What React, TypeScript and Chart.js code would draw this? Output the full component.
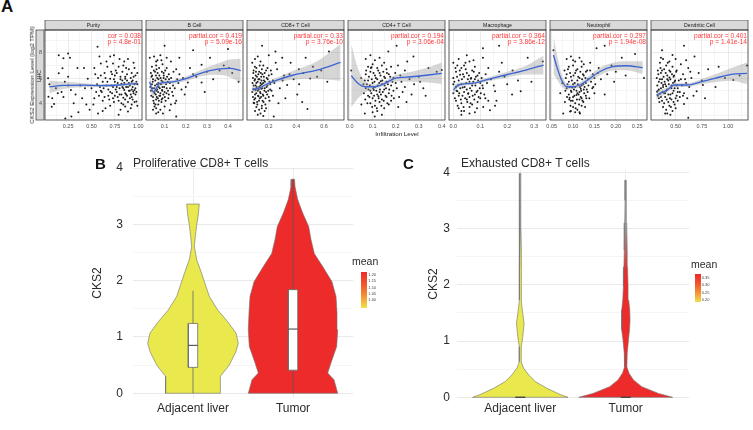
import React, { useEffect, useRef } from 'react';
import { Chart, registerables } from 'chart.js';
Chart.register(...registerables);

const FONT = "'Liberation Sans', Arial, Helvetica, sans-serif";

// ---------------- Panel A (TIMER scatter panels) ----------------
const panelNames = ['Purity', 'B Cell', 'CD8+ T Cell', 'CD4+ T Cell', 'Macrophage', 'Neutrophil', 'Dendritic Cell'];
const corLabels = ['cor = 0.038', 'partial.cor = 0.419', 'partial.cor = 0.33', 'partial.cor = 0.194', 'partial.cor = 0.364', 'partial.cor = 0.297', 'partial.cor = 0.401'];
const pLabels = ['p = 4.8e-01', 'p = 5.09e-16', 'p = 3.76e-10', 'p = 3.06e-04', 'p = 3.86e-12', 'p = 1.94e-08', 'p = 1.41e-14'];
const xRangeMin = [0.003, 0.012, 0.042, -0.007, -0.016, 0.046, 0.265];
const xRangeMax = [1.04, 0.471, 0.745, 0.414, 0.344, 0.273, 1.19];
const purityTicks = ['0.25', '0.50', '0.75', '1.00'];
const bcellTicks = ['0.1', '0.2', '0.3', '0.4'];
const cd8Ticks = ['0.2', '0.4', '0.6'];
const cd4Ticks = ['0.0', '0.1', '0.2', '0.3', '0.4'];
const macroTicks = ['0.0', '0.1', '0.2', '0.3'];
const neutroTicks = ['0.05', '0.10', '0.15', '0.20', '0.25'];
const dcTicks = ['0.50', '0.75', '1.00'];
const exprTicks = ['4', '6', '8'];
const exprRange = [2.68, 9.8];

const purityPts = [[0.036,5.98],[0.04,4.52],[0.08,4.4],[0.075,3.73],[0.15,7.8],[0.15,6.37],[0.19,6.77],[0.2,7.56],[0.25,7.95],[0.27,7.6],[0.215,5.7],[0.18,4.9],[0.14,4.8],[0.2,4.5],[0.25,6.1],[0.25,5.4],[0.28,5.05],[0.31,4.0],[0.22,2.8],[0.285,2.95],[0.1,3.95],[0.35,6.8],[0.38,5.4],[0.42,6.8],[0.4,4.4],[0.445,3.9],[0.48,3.5],[0.46,5.95],[0.53,6.8],[0.565,8.47],[0.585,7.7],[0.6,7.15],[0.55,4.9],[0.52,3.9],[0.62,4.2],[0.65,3.6],[0.7,7.7],[0.73,7.15],[0.72,6.3],[0.75,5.7],[0.79,6.9],[0.8,7.5],[0.84,7.0],[0.87,6.8],[0.89,7.5],[0.93,6.4],[0.96,6.8],[0.98,5.7],[0.945,4.95],[0.91,4.4],[0.87,4.7],[0.84,5.2],[0.8,4.7],[0.77,4.9],[0.73,4.4],[0.7,4.9],[0.66,5.4],[0.62,5.7],[0.59,5.3],[0.82,4.0],[0.86,3.75],[0.93,3.9],[0.98,4.15],[0.79,3.1],[0.89,3.35],[0.75,6.2],[0.86,5.95],[0.93,5.7],[0.81,6.1],[0.7,5.95],[0.64,6.4],[0.77,5.3],[0.82,5.55],[0.89,5.3],[0.96,5.05],[0.73,5.3],[0.86,4.8],[0.93,4.5],[0.68,4.6],[0.91,5.0],[0.95,6.1],[0.88,6.3],[0.78,4.5],[0.84,4.45],[0.97,4.7],[0.9,5.6],[0.76,6.6],[0.67,6.9],[0.57,6.0],[0.5,5.2],[0.99,6.4],[0.83,5.8],[0.74,4.1],[0.94,5.3],[0.85,5.05],
  [0.56,5.5],[0.58,4.6],[0.6,6.2],[0.61,4.9],[0.63,5.2],[0.64,4.5],[0.65,6.0],[0.67,5.7],[0.68,5.1],[0.69,4.3],[0.71,5.4],[0.71,6.5],[0.72,4.8],[0.74,5.9],[0.75,4.6],[0.76,5.1],[0.77,6.4],[0.78,5.6],[0.79,4.2],[0.8,5.2],[0.81,5.9],[0.82,4.7],[0.83,6.5],[0.83,5.3],[0.84,3.9],[0.85,5.6],[0.86,4.3],[0.86,6.1],[0.87,5.3],[0.88,4.6],[0.88,5.8],[0.89,4.1],[0.9,6.7],[0.9,5.0],[0.91,5.4],[0.92,4.7],[0.92,6.0],[0.93,5.1],[0.94,4.3],[0.94,5.8],[0.95,4.8],[0.96,5.5],[0.96,4.1],[0.97,6.2],[0.97,5.2],[0.98,4.9],[0.99,5.5],[0.99,3.8],[0.53,4.4],[0.54,6.3],[0.57,3.2],[0.62,3.4],[0.66,7.3],[0.74,7.8],[0.81,3.5],[0.92,3.6],[0.7,3.8],[0.6,5.0],[0.85,7.3],[0.95,7.2],[0.33,4.7],[0.12,5.2],[0.43,5.2],[0.36,3.3],[0.05,5.5]];
const purityFitX = [0.05, 0.2, 0.4, 0.6, 0.8, 0.99];
const purityFitY = [5.3, 5.42, 5.44, 5.4, 5.45, 5.58];
const purityFitSE = [0.5, 0.28, 0.17, 0.12, 0.1, 0.16];

const bcellPts = [[0.03,7.6],[0.05,7.7],[0.066,7.4],[0.08,7.8],[0.1,8.55],[0.04,6.9],[0.06,7.0],[0.09,7.1],[0.11,6.8],[0.035,6.4],[0.055,6.5],[0.075,6.2],[0.095,6.4],[0.12,6.3],[0.045,5.9],[0.065,6.0],[0.085,5.8],[0.105,5.9],[0.125,5.6],[0.04,5.5],[0.055,5.4],[0.07,5.6],[0.09,5.3],[0.11,5.2],[0.035,5.0],[0.05,4.9],[0.065,5.1],[0.08,4.8],[0.1,4.9],[0.12,4.7],[0.045,4.5],[0.06,4.3],[0.075,4.6],[0.09,4.4],[0.105,4.2],[0.05,4.0],[0.07,3.9],[0.085,4.1],[0.06,3.6],[0.08,3.5],[0.1,3.75],[0.052,3.75],[0.06,3.2],[0.092,3.2],[0.124,3.45],[0.155,2.95],[0.155,4.2],[0.195,4.7],[0.21,5.65],[0.275,5.65],[0.187,6.0],[0.235,6.3],[0.155,6.7],[0.275,7.05],[0.235,8.2],[0.315,7.6],[0.4,8.3],[0.405,6.8],[0.45,5.7],[0.14,5.4],[0.16,5.9],[0.17,6.3],[0.13,7.3],[0.18,5.1],[0.22,6.8],[0.25,6.1],[0.3,6.5],[0.33,5.9],[0.36,6.6],[0.38,7.0],[0.42,6.4],[0.29,4.9],[0.14,4.6],[0.13,3.9],[0.17,7.6],[0.2,5.3],[0.115,5.7],[0.095,6.0],[0.072,5.3],[0.058,4.7],[0.043,5.2],[0.068,4.4],[0.088,5.05],[0.038,6.1],[0.062,6.7],
  [0.032,5.3],[0.037,4.6],[0.041,6.2],[0.044,5.7],[0.047,4.2],[0.049,6.6],[0.051,5.2],[0.053,4.8],[0.056,5.8],[0.057,3.9],[0.059,6.2],[0.061,5.0],[0.063,4.5],[0.064,5.5],[0.067,6.4],[0.069,4.9],[0.071,5.9],[0.073,4.2],[0.074,6.8],[0.077,5.2],[0.079,4.6],[0.081,6.0],[0.083,5.5],[0.086,4.3],[0.087,6.5],[0.089,5.0],[0.091,5.7],[0.094,4.7],[0.096,6.2],[0.098,5.3],[0.101,4.5],[0.103,6.6],[0.107,5.5],[0.109,4.8],[0.112,6.1],[0.116,5.0],[0.118,4.4],[0.121,5.9],[0.126,5.2],[0.131,6.0],[0.136,4.9],[0.142,6.5],[0.148,5.2],[0.045,3.5],[0.07,3.3],[0.085,7.4],[0.06,7.3],[0.11,7.6],[0.15,4.0],[0.165,5.6]];
const bcellFitX = [0.029, 0.046, 0.078, 0.14, 0.205, 0.27, 0.35, 0.41, 0.46];
const bcellFitY = [5.7, 4.92, 5.58, 5.7, 5.97, 6.37, 6.7, 6.77, 6.58];
const bcellFitSE = [0.55, 0.35, 0.2, 0.15, 0.18, 0.25, 0.45, 0.7, 0.95];

const cd8Pts = [[0.151,8.55],[0.248,8.1],[0.297,7.6],[0.358,7.2],[0.418,6.7],[0.467,7.6],[0.624,5.7],[0.636,8.1],[0.406,4.7],[0.442,4.1],[0.48,3.55],[0.236,2.95],[0.333,5.45],[0.5,5.97],[0.31,6.2],[0.08,7.2],[0.1,7.5],[0.12,7.7],[0.14,7.3],[0.16,7.0],[0.09,6.6],[0.11,6.8],[0.13,6.5],[0.15,6.7],[0.17,6.4],[0.19,6.8],[0.085,6.0],[0.105,6.2],[0.125,5.9],[0.145,6.1],[0.165,5.8],[0.185,6.0],[0.205,5.7],[0.09,5.4],[0.11,5.6],[0.13,5.3],[0.15,5.5],[0.17,5.2],[0.19,5.4],[0.21,5.1],[0.08,4.9],[0.1,4.7],[0.12,5.0],[0.14,4.8],[0.16,4.6],[0.18,4.9],[0.2,4.5],[0.095,4.3],[0.115,4.1],[0.135,4.4],[0.155,4.2],[0.175,3.9],[0.11,3.7],[0.13,3.5],[0.15,3.8],[0.17,3.4],[0.12,3.1],[0.16,3.0],[0.22,6.3],[0.24,5.6],[0.26,6.7],[0.28,5.2],[0.23,4.6],[0.27,4.0],[0.3,5.8],[0.35,6.3],[0.38,5.9],[0.42,5.5],[0.45,6.4],[0.52,6.9],[0.55,6.1],[0.58,6.6],[0.32,4.4],[0.25,7.2],[0.2,7.8],[0.1,5.9],[0.14,5.6],[0.105,5.05],[0.125,4.55],[0.145,5.15],[0.09,4.05],
  [0.082,5.6],[0.085,4.5],[0.088,6.4],[0.092,5.1],[0.094,4.0],[0.097,5.8],[0.099,6.9],[0.102,4.4],[0.104,5.4],[0.107,6.5],[0.109,4.8],[0.112,5.3],[0.114,6.1],[0.117,3.9],[0.119,5.7],[0.122,4.6],[0.124,6.3],[0.127,5.1],[0.129,4.2],[0.132,5.9],[0.134,7.0],[0.137,4.9],[0.139,5.4],[0.142,6.4],[0.144,4.5],[0.147,5.8],[0.149,3.6],[0.152,5.2],[0.154,6.3],[0.157,4.7],[0.159,5.6],[0.162,4.1],[0.164,6.1],[0.168,5.0],[0.172,5.7],[0.176,4.4],[0.18,6.6],[0.184,5.3],[0.188,4.7],[0.192,5.9],[0.196,5.0],[0.2,6.2],[0.205,4.2],[0.21,5.5],[0.215,6.6],[0.22,5.0],[0.23,5.8],[0.14,3.2],[0.1,3.4],[0.18,3.6]];
const cd8FitX = [0.079, 0.127, 0.176, 0.26, 0.38, 0.55, 0.72];
const cd8FitY = [5.13, 5.19, 5.47, 5.84, 6.24, 6.63, 7.24];
const cd8FitSE = [0.3, 0.15, 0.15, 0.2, 0.35, 0.7, 1.45];

const cd4Pts = [[0.007,6.6],[0.204,8.55],[0.168,8.1],[0.277,7.7],[0.306,5.7],[0.378,6.5],[0.4,6.63],[0.342,6.8],[0.24,6.6],[0.269,4.7],[0.247,4.1],[0.211,3.7],[0.109,2.95],[0.066,3.2],[0.051,3.9],[0.07,7.5],[0.09,7.8],[0.11,7.4],[0.13,7.6],[0.15,7.2],[0.08,6.9],[0.1,7.1],[0.12,6.8],[0.14,7.0],[0.16,6.7],[0.18,6.9],[0.07,6.3],[0.09,6.5],[0.11,6.2],[0.13,6.4],[0.15,6.1],[0.17,6.3],[0.19,6.0],[0.08,5.8],[0.1,5.6],[0.12,5.9],[0.14,5.5],[0.16,5.7],[0.18,5.4],[0.2,5.6],[0.07,5.2],[0.09,5.0],[0.11,5.3],[0.13,4.9],[0.15,5.1],[0.17,4.8],[0.19,5.0],[0.08,4.6],[0.1,4.4],[0.12,4.7],[0.14,4.3],[0.16,4.5],[0.18,4.2],[0.09,4.0],[0.11,3.8],[0.13,4.1],[0.15,3.6],[0.17,3.9],[0.12,3.4],[0.14,3.1],[0.1,3.3],[0.22,6.2],[0.24,5.3],[0.26,5.9],[0.23,4.9],[0.28,5.5],[0.3,6.1],[0.21,7.0],[0.25,7.3],[0.32,5.2],[0.33,4.6],[0.06,5.5],[0.05,6.0],[0.105,5.05],[0.125,4.55],[0.095,6.85],[0.135,5.75],
  [0.062,4.8],[0.066,5.8],[0.068,4.3],[0.072,6.6],[0.075,5.5],[0.077,4.0],[0.082,5.1],[0.084,6.1],[0.086,4.5],[0.088,5.4],[0.092,6.8],[0.094,4.8],[0.096,5.9],[0.098,3.7],[0.102,5.2],[0.104,6.4],[0.106,4.6],[0.108,5.7],[0.112,4.2],[0.114,6.0],[0.116,5.0],[0.118,3.6],[0.122,5.4],[0.124,6.6],[0.126,4.4],[0.128,5.6],[0.132,5.1],[0.134,6.2],[0.136,4.7],[0.138,3.8],[0.142,5.8],[0.144,4.9],[0.146,6.5],[0.148,4.2],[0.152,5.4],[0.154,6.0],[0.156,4.6],[0.158,5.2],[0.162,6.4],[0.164,4.0],[0.166,5.5],[0.172,5.1],[0.176,6.1],[0.182,4.6],[0.186,5.7],[0.192,4.4],[0.198,6.4],[0.205,5.2],[0.215,4.5],[0.225,5.7]];
const cd4FitX = [0.007, 0.036, 0.066, 0.109, 0.153, 0.196, 0.269, 0.342, 0.4];
const cd4FitY = [6.18, 5.58, 5.31, 5.31, 5.58, 5.97, 6.1, 6.24, 6.37];
const cd4FitSE = [2.5, 1.2, 0.45, 0.2, 0.18, 0.25, 0.4, 0.6, 0.85];

const macroPts = [[0.11,8.35],[0.17,8.55],[0.18,7.2],[0.276,7.6],[0.332,7.3],[0.2,5.5],[0.155,4.95],[0.119,4.4],[0.16,4.2],[0.136,3.45],[0.155,3.8],[0.218,4.7],[0.25,4.95],[0.29,5.7],[0.111,3.7],[0.0,7.2],[0.02,7.5],[0.04,7.0],[0.06,7.3],[0.08,6.9],[0.01,6.5],[0.03,6.8],[0.05,6.4],[0.07,6.6],[0.09,6.2],[0.0,6.0],[0.02,5.8],[0.04,6.1],[0.06,5.7],[0.08,5.9],[0.1,5.6],[0.01,5.3],[0.03,5.5],[0.05,5.1],[0.07,5.4],[0.09,5.0],[0.0,4.8],[0.02,4.6],[0.04,4.9],[0.06,4.5],[0.08,4.7],[0.1,4.4],[0.01,4.2],[0.03,4.0],[0.05,4.3],[0.07,3.9],[0.09,4.1],[0.02,3.6],[0.04,3.4],[0.06,3.7],[0.08,3.3],[0.03,3.1],[0.12,6.3],[0.14,5.9],[0.13,6.8],[0.11,5.2],[0.15,5.4],[0.17,6.5],[0.19,6.1],[0.22,6.6],[0.24,5.8],[0.0,5.5],[0.11,7.6],[0.05,7.8],[0.015,4.95],[0.035,5.25],[0.055,4.75],[0.025,6.25],[0.065,5.95],
  [0.004,5.7],[0.006,4.4],[0.008,6.8],[0.012,5.0],[0.014,6.1],[0.016,3.8],[0.018,5.4],[0.022,4.8],[0.024,6.6],[0.026,5.2],[0.028,4.3],[0.032,5.9],[0.034,4.6],[0.036,6.3],[0.038,3.7],[0.042,5.3],[0.044,4.4],[0.046,6.7],[0.048,5.6],[0.052,4.1],[0.054,5.9],[0.056,4.8],[0.058,6.2],[0.062,5.2],[0.064,4.0],[0.066,6.0],[0.068,5.0],[0.072,4.6],[0.074,5.7],[0.076,6.5],[0.078,4.3],[0.082,5.4],[0.084,6.1],[0.086,4.9],[0.088,3.6],[0.092,5.8],[0.094,4.5],[0.096,6.4],[0.098,5.2],[0.102,4.8],[0.105,6.0],[0.108,5.4],[0.115,4.7],[0.125,5.6],[0.13,4.2],[0.045,7.2],[0.015,7.0],[0.075,7.4],[0.03,3.4],[0.06,3.2]];
const macroFitX = [0.0, 0.019, 0.069, 0.119, 0.194, 0.27, 0.335];
const macroFitY = [5.05, 5.45, 5.58, 5.84, 6.24, 6.63, 7.03];
const macroFitSE = [0.35, 0.2, 0.13, 0.15, 0.22, 0.35, 0.75];

const neutroPts = [[0.054,8.2],[0.155,8.35],[0.174,8.55],[0.214,7.6],[0.245,7.9],[0.266,6.0],[0.223,6.2],[0.196,5.7],[0.174,4.7],[0.147,5.3],[0.081,4.1],[0.077,3.2],[0.093,3.35],[0.116,3.2],[0.124,4.1],[0.085,7.5],[0.095,7.7],[0.105,7.3],[0.115,7.6],[0.125,7.1],[0.09,6.9],[0.1,7.0],[0.11,6.7],[0.12,6.9],[0.13,6.5],[0.085,6.3],[0.095,6.1],[0.105,6.4],[0.115,6.0],[0.125,6.2],[0.135,5.9],[0.09,5.7],[0.1,5.5],[0.11,5.8],[0.12,5.4],[0.13,5.6],[0.085,5.2],[0.095,5.0],[0.105,5.3],[0.115,4.9],[0.125,5.1],[0.09,4.7],[0.1,4.5],[0.11,4.8],[0.12,4.4],[0.13,4.6],[0.095,4.2],[0.105,4.0],[0.115,4.3],[0.1,3.7],[0.11,3.5],[0.12,3.8],[0.105,3.3],[0.14,6.6],[0.15,6.0],[0.16,6.8],[0.145,5.2],[0.165,5.9],[0.18,6.3],[0.19,7.0],[0.2,6.5],[0.15,4.8],[0.14,7.2],[0.075,5.6],[0.08,6.6],[0.07,4.8],[0.098,5.25],[0.108,4.65],[0.118,5.15],[0.092,4.45],
  [0.082,5.0],[0.083,6.0],[0.086,4.5],[0.087,5.5],[0.088,6.7],[0.091,4.3],[0.092,5.3],[0.093,6.4],[0.094,3.8],[0.096,4.9],[0.097,5.8],[0.099,4.2],[0.101,6.2],[0.102,5.1],[0.103,4.6],[0.104,5.6],[0.106,3.6],[0.107,6.6],[0.108,5.0],[0.109,4.3],[0.111,5.5],[0.112,6.1],[0.113,4.7],[0.114,3.9],[0.116,5.3],[0.117,6.5],[0.118,4.5],[0.119,5.0],[0.121,5.9],[0.122,4.2],[0.123,6.3],[0.124,5.5],[0.126,4.8],[0.127,5.3],[0.128,3.7],[0.129,6.0],[0.131,4.4],[0.132,5.1],[0.133,6.6],[0.134,4.9],[0.136,5.4],[0.138,4.4],[0.142,5.7],[0.146,6.3],[0.152,5.5],[0.158,6.4],[0.095,3.4],[0.115,3.3],[0.1,7.4],[0.12,7.3]];
const neutroFitX = [0.054, 0.062, 0.073, 0.085, 0.1, 0.116, 0.139, 0.162, 0.193, 0.225, 0.263];
const neutroFitY = [7.82, 6.9, 5.84, 5.31, 5.31, 5.45, 5.97, 6.5, 6.9, 6.97, 6.82];
const neutroFitSE = [1.5, 1.0, 0.5, 0.25, 0.18, 0.2, 0.25, 0.3, 0.3, 0.35, 0.5];

const dcPts = [[0.323,4.92],[0.37,8.2],[0.58,8.55],[0.47,7.82],[0.68,7.7],[0.81,6.7],[0.91,6.9],[1.05,5.85],[1.18,7.0],[0.78,4.4],[0.7,4.95],[0.58,3.95],[0.62,2.85],[0.42,3.2],[0.88,5.3],[0.97,6.0],[1.11,6.2],[0.76,5.45],[0.32,6.0],[0.35,7.2],[0.38,7.5],[0.41,7.0],[0.44,7.3],[0.47,6.9],[0.33,6.6],[0.36,6.4],[0.39,6.7],[0.42,6.2],[0.45,6.5],[0.48,6.1],[0.51,6.6],[0.34,5.7],[0.37,5.9],[0.4,5.5],[0.43,5.8],[0.46,5.4],[0.49,5.7],[0.52,5.2],[0.55,5.9],[0.33,5.0],[0.36,5.2],[0.39,4.8],[0.42,5.1],[0.45,4.7],[0.48,5.0],[0.51,4.6],[0.54,4.9],[0.34,4.4],[0.37,4.2],[0.4,4.5],[0.43,4.1],[0.46,4.3],[0.49,3.9],[0.52,4.2],[0.38,3.7],[0.41,3.5],[0.44,3.8],[0.47,3.4],[0.5,3.6],[0.57,6.3],[0.6,5.6],[0.62,6.8],[0.65,6.0],[0.58,4.8],[0.63,5.3],[0.67,4.6],[0.55,7.1],[0.6,7.4],[0.72,6.4],[0.75,5.8],[0.35,4.75],[0.41,5.35],[0.44,6.05],[0.38,5.45],
  [0.325,5.4],[0.33,4.6],[0.335,6.3],[0.34,5.1],[0.345,4.1],[0.35,5.9],[0.355,6.8],[0.36,4.5],[0.365,5.6],[0.37,6.6],[0.375,4.9],[0.38,5.3],[0.385,6.1],[0.39,4.0],[0.395,5.7],[0.4,4.8],[0.405,6.4],[0.41,5.0],[0.415,4.3],[0.42,5.9],[0.425,7.2],[0.43,4.7],[0.435,5.5],[0.44,6.6],[0.445,4.4],[0.45,5.9],[0.455,3.7],[0.46,5.2],[0.465,6.3],[0.47,4.8],[0.475,5.6],[0.48,4.1],[0.485,6.2],[0.49,5.2],[0.495,5.8],[0.5,4.4],[0.505,6.5],[0.51,5.4],[0.52,4.9],[0.53,5.8],[0.54,4.5],[0.56,5.4],[0.57,4.6],[0.59,5.9],[0.61,4.4],[0.64,6.5],[0.4,3.2],[0.45,3.1],[0.36,7.6],[0.5,7.5]];
const dcFitX = [0.316, 0.42, 0.485, 0.613, 0.742, 0.872, 1.03, 1.18];
const dcFitY = [4.66, 5.05, 5.45, 5.45, 5.7, 5.97, 6.29, 6.37];
const dcFitSE = [0.35, 0.2, 0.15, 0.15, 0.2, 0.3, 0.5, 0.85];

const panels = [
  { ticks: purityTicks, pts: purityPts, fx: purityFitX, fy: purityFitY, se: purityFitSE },
  { ticks: bcellTicks, pts: bcellPts, fx: bcellFitX, fy: bcellFitY, se: bcellFitSE },
  { ticks: cd8Ticks, pts: cd8Pts, fx: cd8FitX, fy: cd8FitY, se: cd8FitSE },
  { ticks: cd4Ticks, pts: cd4Pts, fx: cd4FitX, fy: cd4FitY, se: cd4FitSE },
  { ticks: macroTicks, pts: macroPts, fx: macroFitX, fy: macroFitY, se: macroFitSE },
  { ticks: neutroTicks, pts: neutroPts, fx: neutroFitX, fy: neutroFitY, se: neutroFitSE },
  { ticks: dcTicks, pts: dcPts, fx: dcFitX, fy: dcFitY, se: dcFitSE },
].map((p, i) => ({ ...p, name: panelNames[i], cor: corLabels[i], p: pLabels[i], min: xRangeMin[i], max: xRangeMax[i] }));

// ---------------- Panels B and C (violins) ----------------
const cats = ['Adjacent liver', 'Tumor'];
const violinYTicks = ['0', '1', '2', '3', '4'];
// Proliferative CD8+ T cells: density half-widths (category units)
const propAdjY = [0, 0.3, 0.5, 0.74, 0.89, 1.07, 1.27, 1.48, 1.72, 1.95, 2.16, 2.37, 2.61, 2.78, 2.99, 3.17, 3.36];
const propAdjW = [0.274, 0.274, 0.363, 0.43, 0.453, 0.43, 0.347, 0.247, 0.163, 0.12, 0.08, 0.037, 0.013, 0.023, 0.037, 0.053, 0.063];
const propTumY = [0, 0.24, 0.36, 0.54, 0.83, 1.13, 1.43, 1.72, 1.98, 2.25, 2.48, 2.73, 2.96, 3.2, 3.44, 3.67, 3.8];
const propTumW = [0.447, 0.41, 0.347, 0.38, 0.437, 0.447, 0.44, 0.43, 0.39, 0.297, 0.213, 0.18, 0.157, 0.097, 0.047, 0.02, 0.015];
const propQ1 = [0.46, 0.41];
const propMed = [0.85, 1.14];
const propQ3 = [1.24, 1.84];
const propWhiskLo = [0, 0];
const propWhiskHi = [1.82, 3.8];
// Exhausted CD8+ T cells
const exhAdjY = [0, 0.05, 0.16, 0.28, 0.4, 0.52, 0.63, 0.9, 1.08, 1.32, 1.55, 1.73, 2.0, 2.3, 2.6, 3.0, 3.5, 3.98];
const exhAdjW = [0.452, 0.379, 0.253, 0.142, 0.079, 0.031, 0.0095, 0.0095, 0.024, 0.036, 0.019, 0.0095, 0.011, 0.012, 0.0076, 0.0066, 0.0057, 0.0047];
const exhTumY = [0, 0.07, 0.19, 0.31, 0.43, 0.54, 0.78, 1.02, 1.2, 1.38, 1.55, 1.73, 1.97, 2.32, 2.62, 3.1, 3.5, 3.86];
const exhTumW = [0.445, 0.31, 0.152, 0.073, 0.031, 0.011, 0.014, 0.026, 0.036, 0.041, 0.038, 0.028, 0.022, 0.017, 0.014, 0.0095, 0.0066, 0.0047];
const exhMed = [0, 0];
const legendBTicks = ['1.20', '1.15', '1.10', '1.05', '1.00'];
const legendCTicks = ['0.35', '0.30', '0.25', '0.20'];

const YELLOW = '#e9e84c';
const RED = '#ee2b2b';
const BLUE = '#3a63d3';
const BOX_HALF = 0.047;

const near = (a: number, b: number) => Math.abs(a - b) < 1e-9;

function scatterConfig(p: any, idx: number) {
  const first = idx === 0;
  const majors = p.ticks.map((t: string) => parseFloat(t));
  const step = majors[1] - majors[0];
  const minors = [majors[0] - step / 2, ...majors.map((m: number) => m + step / 2)].filter((v) => v > p.min && v < p.max);
  const xVals = [...majors, ...minors].sort((a, b) => a - b);
  const yMaj = exprTicks.map((t) => parseFloat(t));
  const yVals = [3, 4, 5, 6, 7, 8, 9];
  const upper = p.fx.map((x: number, i: number) => ({ x, y: p.fy[i] + p.se[i] }));
  const lower = p.fx.map((x: number, i: number) => ({ x, y: p.fy[i] - p.se[i] }));
  const decor = {
    id: 'decor' + idx,
    beforeDraw(chart: any) {
      const { ctx, chartArea: a } = chart;
      ctx.save();
      ctx.fillStyle = '#ffffff';
      ctx.fillRect(a.left, a.top, a.right - a.left, a.bottom - a.top);
      ctx.fillStyle = '#d9d9d9';
      ctx.fillRect(a.left, a.top - 10, a.right - a.left, 10);
      ctx.strokeStyle = '#333';
      ctx.lineWidth = 0.7;
      ctx.strokeRect(a.left, a.top - 10, a.right - a.left, 10);
      ctx.fillStyle = '#1a1a1a';
      ctx.font = `5.2px ${FONT}`;
      ctx.textAlign = 'center';
      ctx.textBaseline = 'middle';
      ctx.fillText(p.name, (a.left + a.right) / 2, a.top - 4.8);
      if (first) {
        ctx.fillStyle = '#d9d9d9';
        ctx.fillRect(a.left - 9, a.top, 8, a.bottom - a.top);
        ctx.strokeRect(a.left - 9, a.top, 8, a.bottom - a.top);
        ctx.translate(a.left - 5, (a.top + a.bottom) / 2 + 1);
        ctx.rotate(-Math.PI / 2);
        ctx.fillStyle = '#1a1a1a';
        ctx.fillText('LIHC', 0, 0);
      }
      ctx.restore();
    },
    afterDraw(chart: any) {
      const { ctx, chartArea: a } = chart;
      ctx.save();
      ctx.strokeStyle = '#333';
      ctx.lineWidth = 0.8;
      ctx.strokeRect(a.left, a.top, a.right - a.left, a.bottom - a.top);
      ctx.fillStyle = '#ff3b3b';
      ctx.font = `6.6px ${FONT}`;
      ctx.textAlign = 'right';
      ctx.textBaseline = 'middle';
      ctx.fillText(p.cor, a.right - 1, a.top + 5.7);
      ctx.fillText(p.p, a.right - 1, a.top + 11.7);
      ctx.restore();
    },
  };
  return {
    type: 'line',
    data: {
      datasets: [
        { data: p.fx.map((x: number, i: number) => ({ x, y: p.fy[i] })), borderColor: BLUE, borderWidth: 1.3, pointRadius: 0, cubicInterpolationMode: 'monotone', fill: false },
        { data: upper, borderColor: 'rgba(0,0,0,0)', borderWidth: 0, pointRadius: 0, cubicInterpolationMode: 'monotone', fill: '+1', backgroundColor: 'rgba(153,153,153,0.4)' },
        { data: lower, borderColor: 'rgba(0,0,0,0)', borderWidth: 0, pointRadius: 0, cubicInterpolationMode: 'monotone', fill: false },
        { data: p.pts.map(([x, y]: number[]) => ({ x, y })), showLine: false, pointRadius: 1.0, pointBackgroundColor: '#1c1c1c', pointBorderWidth: 0, pointBorderColor: 'rgba(0,0,0,0)', fill: false },
      ],
    },
    options: {
      responsive: false,
      animation: false,
      devicePixelRatio: 1,
      events: [],
      layout: { padding: { left: first ? 3 : 4, right: 4, top: 10, bottom: 0 }, autoPadding: false },
      plugins: { legend: { display: false }, tooltip: { enabled: false }, title: { display: false } },
      scales: {
        x: {
          type: 'linear', min: p.min, max: p.max,
          afterBuildTicks: (s: any) => { s.ticks = xVals.map((value) => ({ value })); },
          ticks: {
            autoSkip: false, maxRotation: 0, padding: 3, color: '#4d4d4d', font: { family: FONT, size: 5.5 },
            callback: (v: number) => { const i = majors.findIndex((m: number) => near(m, v)); return i >= 0 ? p.ticks[i] : ''; },
          },
          grid: { drawTicks: false, lineWidth: 0.7, color: (c: any) => (majors.some((m: number) => near(m, c.tick?.value)) ? '#e2e2e2' : '#f1f1f1') },
          border: { display: false },
          afterFit: (s: any) => { s.height = 15; s.paddingLeft = 0; s.paddingRight = 0; },
        },
        y: {
          type: 'linear', min: exprRange[0], max: exprRange[1],
          afterBuildTicks: (s: any) => { s.ticks = yVals.map((value) => ({ value })); },
          ticks: {
            display: first, autoSkip: false, padding: 3, color: '#4d4d4d', font: { family: FONT, size: 5.5 },
            callback: (v: number) => (yMaj.some((m) => near(m, v)) ? String(v) : ''),
          },
          grid: { drawTicks: false, lineWidth: 0.7, color: (c: any) => (yMaj.some((m) => near(m, c.tick?.value)) ? '#e2e2e2' : '#f1f1f1') },
          border: { display: false },
          afterFit: (s: any) => { s.width = first ? 12 : 0; s.paddingTop = 0; s.paddingBottom = 0; },
        },
      },
    },
    plugins: [decor],
  };
}

const poly = (c: number, ys: number[], ws: number[]) => {
  const right = ys.map((y, i) => ({ x: c + ws[i], y }));
  const left = ys.map((y, i) => ({ x: c - ws[i], y })).reverse();
  return [...right, ...left, right[0]];
};
const violinDs = (data: any[], bg: any) => ({ data, fill: 'shape', backgroundColor: bg, borderColor: '#707070', borderWidth: 0.6, pointRadius: 0, tension: 0 });
const segDs = (a: any, b: any, color: string, w: number) => ({ data: [a, b], fill: false, borderColor: color, borderWidth: w, pointRadius: 0 });
const boxDs = (c: number, q1: number, q3: number) => ({
  data: [{ x: c - BOX_HALF, y: q1 }, { x: c + BOX_HALF, y: q1 }, { x: c + BOX_HALF, y: q3 }, { x: c - BOX_HALF, y: q3 }, { x: c - BOX_HALF, y: q1 }],
  fill: 'shape', backgroundColor: '#ffffff', borderColor: '#6b6b6b', borderWidth: 0.8, pointRadius: 0,
});
const fadeFill = (color: string) => (ctx: any) => {
  const chart = ctx.chart;
  if (!chart.chartArea || !chart.scales.y) return color;
  const ys = chart.scales.y;
  const g = chart.ctx.createLinearGradient(0, ys.getPixelForValue(0), 0, ys.getPixelForValue(4));
  g.addColorStop(0, color);
  g.addColorStop(0.56, color);
  g.addColorStop(0.76, '#9d9d9d');
  g.addColorStop(1, '#b5b5b5');
  return g;
};

function violinConfig(v: any) {
  const majors = violinYTicks.map((t) => parseFloat(t));
  const yVals: number[] = [];
  majors.forEach((m, i) => { yVals.push(m); if (i < majors.length - 1) yVals.push(m + 0.5); });
  return {
    type: 'line',
    data: { datasets: v.datasets },
    options: {
      indexAxis: 'y',
      responsive: false,
      animation: false,
      devicePixelRatio: 1,
      events: [],
      layout: { padding: { left: 0, right: v.padRight, top: v.padTop, bottom: 0 }, autoPadding: false },
      plugins: { legend: { display: false }, tooltip: { enabled: false } },
      scales: {
        x: {
          type: 'linear', min: 0.4, max: 2.6,
          afterBuildTicks: (s: any) => { s.ticks = cats.map((_, i) => ({ value: i + 1 })); },
          ticks: { autoSkip: false, maxRotation: 0, padding: 3, color: '#2b2b2b', font: { family: FONT, size: 12 }, callback: (val: number) => cats[Math.round(val) - 1] ?? '' },
          grid: { color: '#ebebeb', drawTicks: false },
          border: { display: false },
          afterFit: (s: any) => { s.height = 27; s.paddingLeft = 0; s.paddingRight = 0; },
        },
        y: {
          type: 'linear', min: v.yMin, max: v.yMax,
          afterBuildTicks: (s: any) => { s.ticks = yVals.map((value) => ({ value })); },
          ticks: { autoSkip: false, padding: v.tickPad, color: '#2b2b2b', font: { family: FONT, size: 12 }, callback: (val: number) => { const i = majors.findIndex((m) => near(m, val)); return i >= 0 ? violinYTicks[i] : ''; } },
          grid: { drawTicks: false, color: (c: any) => (majors.some((m) => near(m, c.tick?.value)) ? '#e9e9e9' : '#f5f5f5') },
          border: { display: false },
          title: { display: true, text: 'CKS2', color: '#2b2b2b', font: { family: FONT, size: 12 }, padding: { top: 4, bottom: 4 } },
          afterFit: (s: any) => { s.width = v.yAxisW; s.paddingTop = 0; s.paddingBottom = 0; },
        },
      },
    },
  };
}

const propDatasets = () => [
  segDs({ x: 1 - BOX_HALF, y: propMed[0] }, { x: 1 + BOX_HALF, y: propMed[0] }, '#5a5a5a', 1.2),
  segDs({ x: 2 - BOX_HALF, y: propMed[1] }, { x: 2 + BOX_HALF, y: propMed[1] }, '#5a5a5a', 1.2),
  boxDs(1, propQ1[0], propQ3[0]),
  boxDs(2, propQ1[1], propQ3[1]),
  segDs({ x: 1, y: propWhiskLo[0] }, { x: 1, y: propWhiskHi[0] }, '#666666', 0.8),
  segDs({ x: 2, y: propWhiskLo[1] }, { x: 2, y: propWhiskHi[1] }, '#555555', 0.8),
  violinDs(poly(2, propTumY, propTumW), RED),
  violinDs(poly(1, propAdjY, propAdjW), YELLOW),
];
const exhDatasets = () => [
  segDs({ x: 1 - BOX_HALF, y: exhMed[0] }, { x: 1 + BOX_HALF, y: exhMed[0] }, '#444444', 1.4),
  segDs({ x: 2 - BOX_HALF, y: exhMed[1] }, { x: 2 + BOX_HALF, y: exhMed[1] }, '#444444', 1.4),
  violinDs(poly(2, exhTumY, exhTumW), fadeFill(RED)),
  violinDs(poly(1, exhAdjY, exhAdjW), fadeFill(YELLOW)),
];

const PANEL_LEFT = [45, 146, 247, 348, 449, 550, 651];

const abs = (o: any): React.CSSProperties => ({ position: 'absolute', whiteSpace: 'nowrap', lineHeight: 1, ...o });

export default function App() {
  const refs = useRef<(HTMLCanvasElement | null)[]>([]);
  useEffect(() => {
    const charts: any[] = [];
    panels.forEach((p, i) => {
      const c = refs.current[i];
      if (c) charts.push(new Chart(c, scatterConfig(p, i) as any));
    });
    const cb = refs.current[7];
    if (cb) charts.push(new Chart(cb, violinConfig({ datasets: propDatasets(), padRight: 27, padTop: 18, yAxisW: 47, yMin: -0.084, yMax: 4.0, tickPad: 10 }) as any));
    const cc = refs.current[8];
    if (cc) charts.push(new Chart(cc, violinConfig({ datasets: exhDatasets(), padRight: 64, padTop: 20, yAxisW: 35, yMin: -0.012, yMax: 4.04, tickPad: 7 }) as any));
    return () => charts.forEach((c) => c.destroy());
  }, []);

  const canvases = [
    ...PANEL_LEFT.map((L, i) => ({ left: i === 0 ? 30 : L - 4, top: 20, w: i === 0 ? 116 : 105, h: 115 })),
    { left: 86, top: 150, w: 294, h: 275 },
    { left: 422, top: 150, w: 331, h: 275 },
  ];

  return (
    <div style={{ position: 'fixed', left: 0, top: 0, width: 753, height: 430, background: '#fff', overflow: 'hidden', fontFamily: FONT, color: '#1a1a1a' }}>
      {canvases.map((c, i) => (
        <canvas key={i} ref={(el) => { refs.current[i] = el; }} width={c.w} height={c.h} style={{ position: 'absolute', left: c.left, top: c.top, width: c.w, height: c.h }} />
      ))}
      <div style={abs({ left: 1, top: -2, fontSize: 17, fontWeight: 'bold', color: '#111' })}>A</div>
      <div style={abs({ left: 31.7, top: 75, fontSize: 6.2, transform: 'translate(-50%, -50%) rotate(-90deg)' })}>CKS2 Expression Level (log2 TPM)</div>
      <div style={abs({ left: 397, top: 133.5, fontSize: 6.2, transform: 'translate(-50%, -50%)' })}>Infiltration Level</div>

      <div style={abs({ left: 95, top: 155.5, fontSize: 15, fontWeight: 'bold', color: '#111' })}>B</div>
      <div style={abs({ left: 133, top: 156.6, fontSize: 12, color: '#2b2b2b' })}>Proliferative CD8+ T cells</div>
      <div style={abs({ left: 352, top: 255.5, fontSize: 10.5, color: '#2b2b2b' })}>mean</div>
      <div style={abs({ left: 361, top: 271.7, width: 5.7, height: 36.6, background: 'linear-gradient(to bottom, #ee2a2a 0%, #f2552c 35%, #f59435 68%, #efe149 100%)' })} />
      {legendBTicks.map((t, i) => (
        <div key={t} style={abs({ left: 368.3, top: 275 + i * 6.25 - 2, fontSize: 4, color: '#444' })}>{t}</div>
      ))}

      <div style={abs({ left: 403, top: 155.5, fontSize: 15, fontWeight: 'bold', color: '#111' })}>C</div>
      <div style={abs({ left: 461, top: 156.6, fontSize: 12, color: '#2b2b2b' })}>Exhausted CD8+ T cells</div>
      <div style={abs({ left: 691, top: 258.8, fontSize: 10.5, color: '#2b2b2b' })}>mean</div>
      <div style={abs({ left: 695, top: 274.3, width: 5.7, height: 27.4, background: 'linear-gradient(to bottom, #ee2a2a 0%, #f2552c 35%, #f59435 68%, #efe149 100%)' })} />
      {legendCTicks.map((t, i) => (
        <div key={t} style={abs({ left: 701.7, top: 277.7 + i * 7.43 - 2, fontSize: 4, color: '#444' })}>{t}</div>
      ))}
    </div>
  );
}
